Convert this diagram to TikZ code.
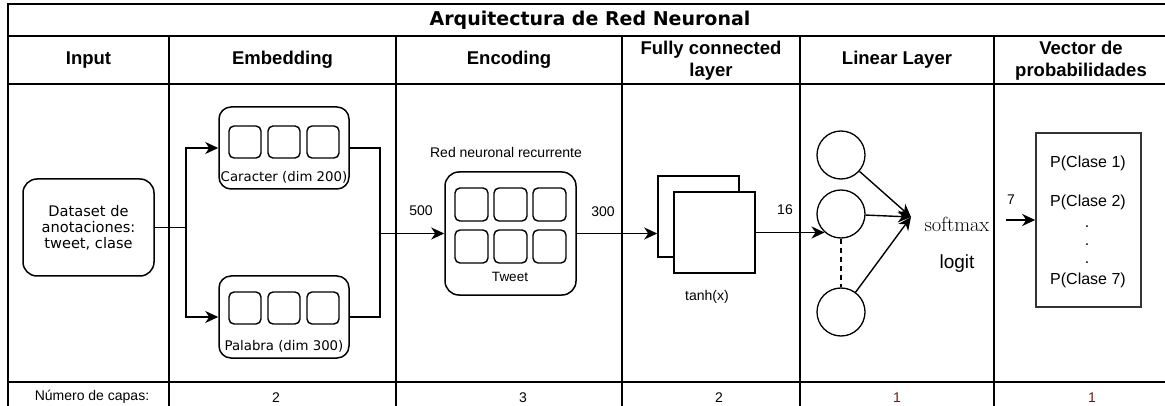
\documentclass[tikz,border=0pt]{standalone}
\usepackage{fontspec}
\usetikzlibrary{arrows.meta}
\newfontfamily\arial{Liberation Sans}
\newfontfamily\verd{DejaVu Sans}
\definecolor{capared}{HTML}{7A1010}
\tikzset{
	tbl/.style={line width=1.7pt},
	hdr/.style={font=\arial\bfseries\fontsize{18.5}{22}\selectfont, align=center, inner sep=0pt},
	txt/.style={font=\arial\fontsize{14}{16}\selectfont, inner sep=0pt},
	rbox/.style={draw, line width=1.5pt, rounded corners=14pt},
	cell/.style={draw, line width=1.4pt, rounded corners=5pt, minimum width=32pt, minimum height=32pt, inner sep=0pt},
	sqbox/.style={draw, fill=white, line width=1.5pt, minimum width=81pt, minimum height=81pt, inner sep=0pt},
	neuron/.style={draw, circle, line width=1.3pt, minimum size=48pt, inner sep=0pt},
	arr/.style={-{Stealth[length=13pt,width=12pt,inset=4pt]}, line width=1.6pt},
}
\begin{document}
\begin{tikzpicture}[x=1pt,y=-1pt]
	\useasboundingbox (0,0) rectangle (1165,406);
	% tabla
	\draw[tbl] (1165,4) -- (8,4) -- (8,406);
	\foreach \y in {36,84,382}{
		\draw[tbl] (8,\y) -- (1165,\y);
	}
	\foreach \x in {169,396,622,800,994}{
		\draw[tbl] (\x,36) -- (\x,406);
	}
	\node[font=\verd\bfseries\fontsize{19}{22}\selectfont, inner sep=0pt] (title) at (590,20) {Arquitectura de Red Neuronal};
	\node[hdr] (hinput) at (88.5,60) {Input};
	\node[hdr] (hemb) at (282.5,60) {Embedding};
	\node[hdr] (henc) at (509,60) {Encoding};
	\node[hdr] (hfc) at (711,61) {Fully connected\\layer};
	\node[hdr] (hlin) at (897,60) {Linear Layer};
	\node[hdr] (hvec) at (1081,61) {Vector de\\probabilidades};

	% input
	\node[rbox, minimum width=131pt, minimum height=97pt, align=center, font=\verd\fontsize{14.6}{16}\selectfont] (input) at (88.5,227.5) {Dataset de\\anotaciones:\\tweet, clase};

	% embedding
	\node[rbox, rounded corners=12pt, minimum width=130pt, minimum height=82pt] (car) at (284,148) {};
	\node[rbox, rounded corners=12pt, minimum width=130pt, minimum height=82pt] (pal) at (284,317) {};
	\foreach \x in {245,284,323}{
		\node[cell] at (\x,142) {};
		\node[cell] at (\x,308) {};
	}
	\node[font=\verd\fontsize{13.3}{15}\selectfont, inner sep=0pt] (carl) at (284,177) {Caracter (dim 200)};
	\node[font=\verd\fontsize{13.3}{15}\selectfont, inner sep=0pt] (pall) at (284,346) {Palabra (dim 300)};
	\coordinate (split) at (186,227.5);
	\coordinate (merge) at (380,233.5);
	\draw[line width=1.6pt] (input.east) -- (split);
	\draw[arr] (split) |- (car.west);
	\draw[arr] (split) |- (pal.west);
	\draw[line width=1.6pt] (car.east) -| (merge);
	\draw[line width=1.6pt] (pal.east) -| (merge);

	% encoding
	\node[rbox, minimum width=131pt, minimum height=123pt] (tweet) at (510.5,233.5) {};
	\foreach \x in {471.5,510.5,549.5}{
		\foreach \y in {204.5,246.5}{
			\node[cell, minimum width=33pt, minimum height=33pt] at (\x,\y) {};
		}
	}
	\node[txt, font=\arial\fontsize{13.5}{15}\selectfont] (tweetl) at (510,277) {Tweet};
	\node[txt] (rnn) at (506,152) {Red neuronal recurrente};
	\node[txt] (n500) at (421,211) {500};
	\node[txt] (n300) at (603,212) {300};
	\draw[arr] (merge) -- (tweet.west);

	% fully connected
	\node[sqbox] (fcback) at (698.5,216.5) {};
	\node[sqbox] (fcfront) at (714.5,232.5) {};
	\node[txt] (tanh) at (707,297) {tanh(x)};
	\draw[arr] (tweet.east) -- (tweet.east -| fcback.west);

	% linear layer
	\node[neuron] (n1) at (841,155) {};
	\node[neuron] (n2) at (841,214) {};
	\node[neuron] (n3) at (841,312) {};
	\draw[dash pattern=on 5pt off 4pt, line width=1.4pt] (n2.south) -- (n3.north);
	\node[txt] (n16) at (785,210) {16};
	\draw[arr] (fcfront.east) -- (fcfront.east -| n2.228);
	\coordinate (sm) at (911,217);
	\foreach \n in {n1,n2,n3}{
		\draw[arr, line width=1.4pt] (\n) -- (sm);
	}
	\node[font=\fontsize{20.5}{22}\selectfont, inner sep=0pt] (softmax) at (957,224) {softmax};
	\node[txt, font=\arial\fontsize{19}{21}\selectfont] (logit) at (957,264) {logit};

	% vector de probabilidades
	\node[draw=black!80, line width=1.6pt, minimum width=105pt, minimum height=174pt, inner sep=0pt] (vec) at (1088.5,220) {};
	\coordinate (v7) at (1006,220);
	\node[txt] (n7) at (1011,200) {7};
	\draw[arr] (v7) -- (vec.west);
	\foreach \y/\t in {163/P(Clase 1),202/P(Clase 2),280/P(Clase 7)}{
		\node[txt, font=\arial\fontsize{16}{18}\selectfont] at (1088,\y) {\t};
	}
	\foreach \y in {227,245,263}{
		\node[txt, font=\arial\fontsize{16}{18}\selectfont] at (1087,\y) {.};
	}

	% numero de capas
	\node[txt] (capas) at (92,397) {Número de capas:};
	\foreach \x/\c in {276/2,523/3,719/2}{
		\node[txt] at (\x,398) {\c};
	}
	\foreach \x in {897,1092}{
		\node[txt, text=capared] at (\x,398) {1};
	}
\end{tikzpicture}
\end{document}
